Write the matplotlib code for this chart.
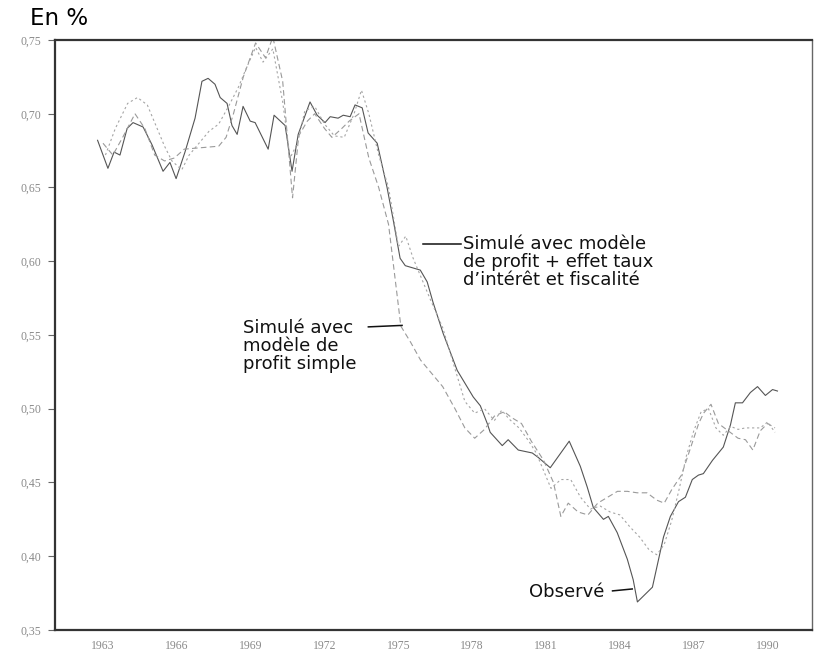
import matplotlib
matplotlib.use("Agg")
import matplotlib.pyplot as plt

obs_years = [1962.78, 1963.20, 1963.45, 1963.69, 1963.98, 1964.22, 1964.63, 1964.99,
             1965.44, 1965.72, 1965.97, 1966.33, 1966.74, 1967.02, 1967.27, 1967.55,
             1967.76, 1968.04, 1968.24, 1968.45, 1968.69, 1968.98, 1969.18, 1969.71,
             1969.95, 1970.40, 1970.68, 1970.93, 1971.41, 1971.70, 1972.02, 1972.23,
             1972.55, 1972.76, 1973.04, 1973.24, 1973.53, 1973.77, 1974.14, 1974.54,
             1974.79, 1975.07, 1975.28, 1975.89, 1976.17, 1976.41, 1976.82, 1977.39,
             1978.04, 1978.33, 1978.61, 1978.73, 1979.22, 1979.46, 1979.87, 1980.44,
             1980.68, 1981.17, 1981.94, 1982.39, 1982.67, 1982.92, 1983.33, 1983.53,
             1983.89, 1984.30, 1984.54, 1984.71, 1985.32, 1985.77, 1986.05, 1986.38,
             1986.66, 1986.94, 1987.19, 1987.39, 1987.76, 1988.20, 1988.49, 1988.69,
             1988.98, 1989.30, 1989.59, 1989.91, 1990.20, 1990.40]
obs_vals = [0.682, 0.663, 0.674, 0.672, 0.690, 0.694, 0.691, 0.679,
            0.661, 0.667, 0.656, 0.674, 0.697, 0.722, 0.724, 0.720,
            0.711, 0.707, 0.692, 0.686, 0.705, 0.695, 0.694, 0.676,
            0.699, 0.692, 0.661, 0.686, 0.708, 0.699, 0.694, 0.698,
            0.697, 0.699, 0.698, 0.706, 0.704, 0.687, 0.680, 0.650,
            0.628, 0.602, 0.597, 0.594, 0.586, 0.572, 0.551, 0.526,
            0.508, 0.502, 0.490, 0.484, 0.475, 0.479, 0.472, 0.470,
            0.467, 0.460, 0.478, 0.461, 0.447, 0.433, 0.425, 0.427,
            0.416, 0.398, 0.384, 0.369, 0.379, 0.413, 0.427, 0.437,
            0.440, 0.452, 0.455, 0.456, 0.465, 0.474, 0.489, 0.504,
            0.504, 0.511, 0.515, 0.509, 0.513, 0.512]

# simulation, simple profit model
simp_years = [1963.0, 1963.4, 1963.8, 1964.3, 1964.7, 1965.1, 1965.5, 1965.9,
              1966.3, 1967.7, 1968.0, 1968.3, 1968.7, 1969.2, 1969.6, 1969.9,
              1970.3, 1970.7, 1970.95, 1971.3, 1971.6, 1972.0, 1972.3, 1972.7,
              1973.0, 1973.4, 1973.8, 1974.2, 1974.6, 1975.1, 1975.5, 1975.9,
              1976.3, 1976.8, 1977.3, 1977.7, 1978.1, 1978.5, 1978.9, 1979.3,
              1979.6, 1980.0, 1980.4, 1980.9, 1981.3, 1981.6, 1981.9, 1982.3,
              1982.7, 1983.1, 1983.5, 1983.9, 1984.3, 1984.7, 1985.1, 1985.5,
              1985.8, 1986.1, 1986.5, 1986.9, 1987.2, 1987.4, 1987.7, 1988.0,
              1988.4, 1988.8, 1989.1, 1989.4, 1989.7, 1990.0, 1990.3]
simp_vals = [0.680, 0.672, 0.684, 0.700, 0.690, 0.672, 0.668, 0.670,
             0.676, 0.678, 0.684, 0.700, 0.725, 0.748, 0.738, 0.752,
             0.722, 0.643, 0.685, 0.695, 0.700, 0.690, 0.684, 0.690,
             0.695, 0.700, 0.670, 0.650, 0.625, 0.556, 0.545, 0.533,
             0.525, 0.515, 0.500, 0.487, 0.480, 0.486, 0.495, 0.498,
             0.494, 0.490, 0.478, 0.465, 0.450, 0.427, 0.436, 0.430,
             0.428, 0.436, 0.440, 0.444, 0.444, 0.443, 0.443, 0.438,
             0.436, 0.445, 0.455, 0.475, 0.490, 0.497, 0.503, 0.490,
             0.485, 0.480, 0.479, 0.472, 0.485, 0.490, 0.487]

# simulation, profit model + interest rate and tax effects
full_years = [1963.1, 1963.5, 1964.0, 1964.4, 1964.8, 1965.2, 1965.5, 1965.8,
              1966.2, 1966.5, 1966.9, 1967.3, 1967.7, 1968.1, 1968.5, 1968.8,
              1969.2, 1969.5, 1969.9, 1970.3, 1970.6, 1970.9, 1971.2, 1971.6,
              1972.0, 1972.4, 1972.8, 1973.2, 1973.5, 1973.8, 1974.2, 1974.6,
              1975.0, 1975.3, 1975.6, 1975.9, 1976.3, 1976.8, 1977.3, 1977.7,
              1978.1, 1978.5, 1978.9, 1979.2, 1979.5, 1979.9, 1980.3, 1980.6,
              1980.9, 1981.2, 1981.6, 1982.0, 1982.4, 1982.8, 1983.2, 1983.6,
              1984.0, 1984.4, 1984.8, 1985.2, 1985.5, 1985.8, 1986.1, 1986.4,
              1986.7, 1987.0, 1987.3, 1987.6, 1987.9, 1988.2, 1988.5, 1988.8,
              1989.1, 1989.4, 1989.7, 1990.0, 1990.3]
full_vals = [0.672, 0.690, 0.707, 0.711, 0.706, 0.690, 0.678, 0.668,
             0.662, 0.672, 0.680, 0.688, 0.693, 0.705, 0.718, 0.730,
             0.745, 0.735, 0.744, 0.708, 0.670, 0.680, 0.702, 0.705,
             0.693, 0.685, 0.684, 0.700, 0.716, 0.700, 0.672, 0.650,
             0.610, 0.617, 0.602, 0.590, 0.574, 0.555, 0.527, 0.505,
             0.497, 0.500, 0.492, 0.499, 0.493, 0.487, 0.478, 0.470,
             0.458, 0.446, 0.452, 0.452, 0.440, 0.432, 0.434, 0.430,
             0.428, 0.420, 0.413, 0.404, 0.401, 0.408, 0.424, 0.445,
             0.468, 0.485, 0.498, 0.500, 0.487, 0.482, 0.488, 0.486,
             0.487, 0.487, 0.487, 0.491, 0.484]

xticks = [1963, 1966, 1969, 1972, 1975, 1978, 1981, 1984, 1987, 1990]
yticks = [0.35, 0.40, 0.45, 0.50, 0.55, 0.60, 0.65, 0.70, 0.75]
ylabels = ["0,35", "0,40", "0,45", "0,50", "0,55", "0,60", "0,65", "0,70", "0,75"]

fig = plt.figure(figsize=(8.16, 6.58), dpi=100)
ax = fig.add_axes([0.0674, 0.0426, 0.9276, 0.8966])

ax.plot(obs_years, obs_vals, color="#555555", lw=0.8, solid_joinstyle="round")
ax.plot(simp_years, simp_vals, color="#9a9a9a", lw=0.8, ls=(0, (5, 3)))
ax.plot(full_years, full_vals, color="#a5a5a5", lw=0.8, ls=(0, (2, 2.5)))

ax.set_xlim(1961.05, 1991.8)
ax.set_ylim(0.35, 0.75)
ax.set_xticks(xticks)
ax.set_xticklabels([str(y) for y in xticks])
ax.set_yticks(yticks)
ax.set_yticklabels(ylabels)
ax.tick_params(axis="y", length=5, width=0.8, color="#666666", pad=5,
               labelsize=8.5, labelcolor="#8a8a8a")
ax.tick_params(axis="x", length=0, pad=7, labelsize=8.5, labelcolor="#8a8a8a")
for lab in ax.get_xticklabels() + ax.get_yticklabels():
    lab.set_family("Liberation Serif")

for side in ["left", "bottom", "top"]:
    ax.spines[side].set_linewidth(1.6)
    ax.spines[side].set_color("#333333")
ax.spines["right"].set_linewidth(1.0)
ax.spines["right"].set_color("#666666")

txt = dict(family="DejaVu Sans", fontsize=13, color="#111111", linespacing=1.0)

fig.text(0.037, 0.972, "En %", family="DejaVu Sans", fontsize=16.5, va="center")

# labels with their leader strokes
ax.text(1977.62, 0.6175, "Simulé avec modèle\nde profit + effet taux\nd’intérêt et fiscalité",
        va="top", ha="left", **txt)
ax.plot([1976.0, 1977.55], [0.6115, 0.6115], color="#111111", lw=1.1)

ax.text(1968.7, 0.561, "Simulé avec\nmodèle de\nprofit simple",
        va="top", ha="left", **txt)
ax.plot([1973.78, 1975.15], [0.5555, 0.5565], color="#111111", lw=1.1)

ax.text(1980.3, 0.3755, "Observé", va="center", ha="left", **txt)
ax.plot([1983.7, 1984.5], [0.3765, 0.3778], color="#111111", lw=1.1)

fig.savefig("out.png", dpi=100)
